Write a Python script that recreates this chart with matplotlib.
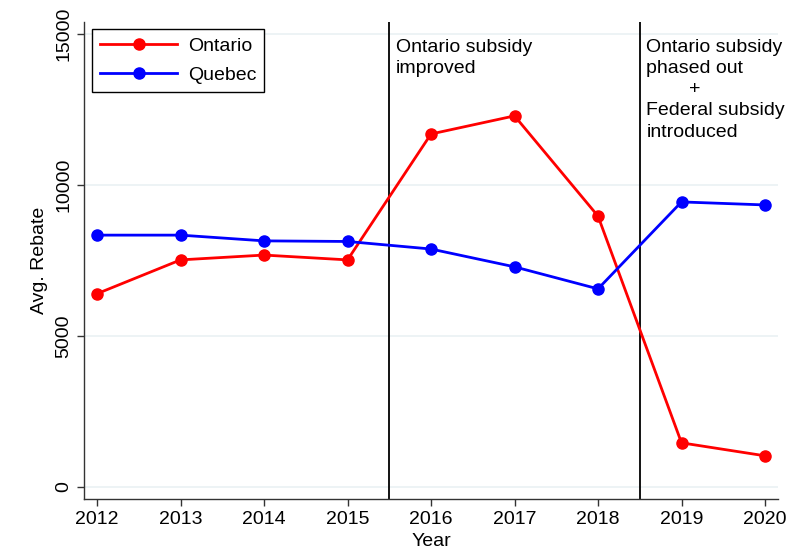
"""
average rebate by province, Stata-like line chart
"""
import matplotlib
matplotlib.use("Agg")
from matplotlib import pyplot as plt

years = [2012, 2013, 2014, 2015, 2016, 2017, 2018, 2019, 2020]
ontario = [6400, 7520, 7680, 7520, 11690, 12290, 8970, 1460, 1030]
quebec = [8340, 8340, 8150, 8130, 7880, 7290, 6560, 9440, 9340]
y_ticks = [0, 5000, 10000, 15000]
policy_years = [2015.5, 2018.5]
policy_notes = [
    "Ontario subsidy\nimproved",
    "Ontario subsidy\nphased out\n        +\nFederal subsidy\nintroduced",
]

plt.rcParams["font.family"] = ["Liberation Sans", "DejaVu Sans"]

fig = plt.figure(figsize=(7.97, 5.54), dpi=100)
ax = fig.add_axes([0.1054, 0.0993, 0.8708, 0.861])

# light horizontal grid
for t in y_ticks:
    ax.axhline(t, color="#eaf1f3", lw=1.2, zorder=0)

ax.plot(years, ontario, color="#ff0000", lw=2, marker="o", ms=8, label="Ontario", zorder=3)
ax.plot(years, quebec, color="#0000ff", lw=2, marker="o", ms=8, label="Quebec", zorder=3)

# policy change markers with notes
for x, note in zip(policy_years, policy_notes):
    ax.axvline(x, color="black", lw=1.3, zorder=2)
    ax.text(x + 0.08, 14850, note, fontsize=14, va="top", ha="left", linespacing=1.33)

ax.set_xlim(2011.844, 2020.156)
ax.set_ylim(-400, 15400)
ax.set_xticks(years)
ax.set_yticks(y_ticks)
ax.set_yticklabels([str(t) for t in y_ticks], rotation=90, va="center")
ax.tick_params(labelsize=14, length=5, width=1, color="#333333")
ax.tick_params(axis="x", pad=4)
ax.set_xlabel("Year", fontsize=14, labelpad=3)
ax.set_ylabel("Avg. Rebate", fontsize=14, labelpad=5)

ax.spines["top"].set_visible(False)
ax.spines["right"].set_visible(False)
for s in ["left", "bottom"]:
    ax.spines[s].set_color("#333333")
    ax.spines[s].set_linewidth(1)

leg = ax.legend(loc="upper left", fontsize=14, fancybox=False, framealpha=1,
                edgecolor="black", handlelength=3.95, handletextpad=0.55,
                borderpad=0.42, labelspacing=0.58, borderaxespad=0,
                bbox_to_anchor=(0.0115, 0.985))
leg.get_frame().set_linewidth(1)

fig.savefig("out.png", dpi=100)
